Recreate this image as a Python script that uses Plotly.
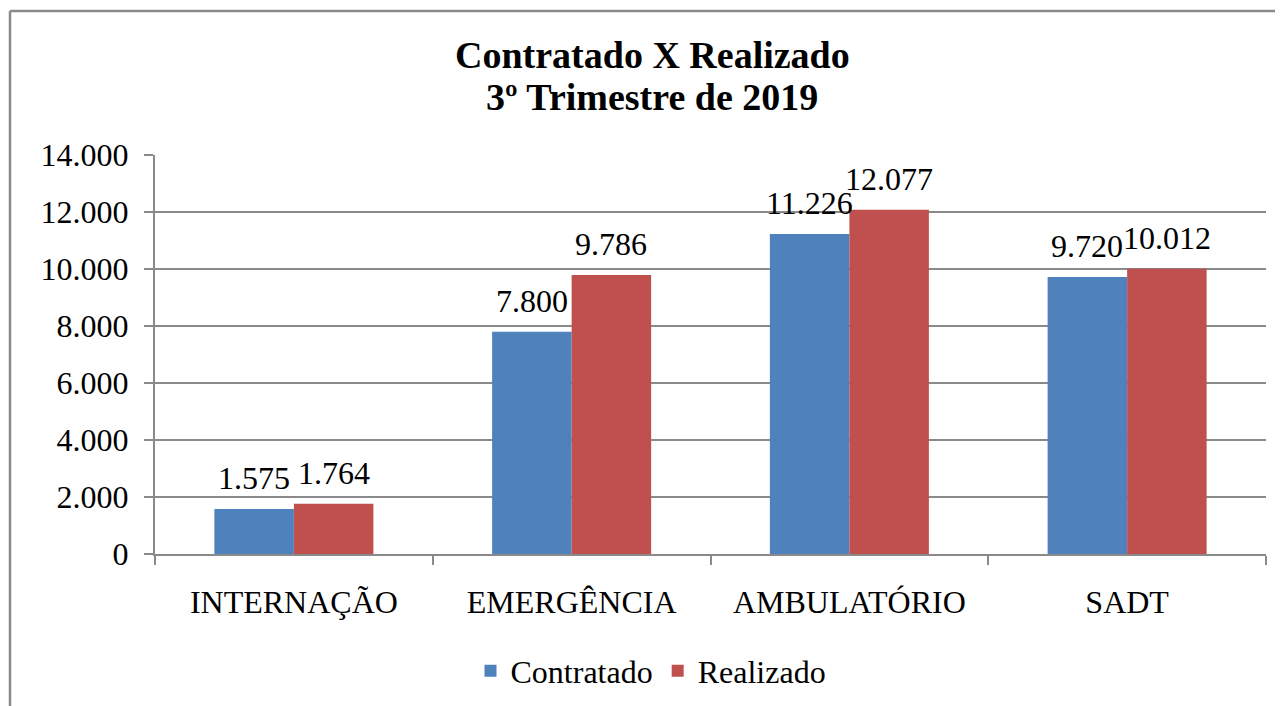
import plotly.graph_objects as go

categories = ["INTERNAÇÃO", "EMERGÊNCIA", "AMBULATÓRIO", "SADT"]
contratado = [1575, 7800, 11226, 9720]
realizado = [1764, 9786, 12077, 10012]
y_ticks = [0, 2000, 4000, 6000, 8000, 10000, 12000, 14000]

OFF = 8  # page body margin offset
W, H = 1283, 706
L = 155 - OFF
T = 155 - OFF
R = W - (1266 - OFF)
B = H - (554 - OFF)
pw, ph = W - L - R, H - T - B

def px_x(x):
    return (x - OFF - L) / pw

def px_y(y):
    return (T + ph - (y - OFF)) / ph

FONT = "Liberation Serif"
GRID = "#8a8a8a"
BARGAP = 0.4275
half_bar = (1 - BARGAP) * (pw / len(categories)) / 4

def fmt(v):
    return f"{v:,}".replace(",", ".")

fig = go.Figure()
fig.add_trace(go.Bar(
    name="Contratado", x=categories, y=contratado,
    marker=dict(color="#4F81BD", line=dict(width=0)),
))
fig.add_trace(go.Bar(
    name="Realizado", x=categories, y=realizado,
    marker=dict(color="#C0504D", line=dict(width=0)),
))

annotations = []
for series, shift in ((contratado, -half_bar), (realizado, half_bar)):
    for c, v in zip(categories, series):
        annotations.append(dict(
            x=c, y=v, xref="x", yref="y", text=fmt(v), showarrow=False,
            xanchor="center", yanchor="bottom", xshift=shift, yshift=11,
            font=dict(family=FONT, size=32, color="black"),
        ))

annotations += [
    dict(text="<b>Contratado X Realizado</b>", xref="paper", yref="paper",
         x=px_x(652), y=px_y(55), xanchor="center", yanchor="middle",
         showarrow=False, font=dict(family=FONT, size=38, color="black")),
    dict(text="<b>3º Trimestre de 2019</b>", xref="paper", yref="paper",
         x=px_x(652), y=px_y(97), xanchor="center", yanchor="middle",
         showarrow=False, font=dict(family=FONT, size=38, color="black")),
]

fig.update_layout(
    width=W, height=H,
    margin=dict(l=L, r=R, t=T, b=B, autoexpand=False),
    paper_bgcolor="white", plot_bgcolor="white",
    separators=",.",
    barmode="group", bargap=BARGAP, bargroupgap=0,
    font=dict(family=FONT, size=32, color="black"),
    showlegend=True,
    legend=dict(orientation="h", x=px_x(651), y=px_y(671),
                xanchor="center", yanchor="middle",
                font=dict(family=FONT, size=32, color="black"),
                itemwidth=30, bgcolor="rgba(0,0,0,0)"),
    xaxis=dict(
        type="category", showline=True, linecolor=GRID, linewidth=2,
        ticks="outside", tickson="boundaries", ticklen=9, tickwidth=2,
        tickcolor=GRID, showgrid=False,
        tickfont=dict(family=FONT, size=32, color="black"),
        ticklabelstandoff=19,
    ),
    yaxis=dict(
        range=[0, 14000], tickvals=y_ticks, tickformat=",d",
        showline=True, linecolor=GRID, linewidth=2,
        ticks="outside", ticklen=9, tickwidth=2, tickcolor=GRID,
        showgrid=True, gridcolor=GRID, gridwidth=1.5,
        zeroline=False,
        tickfont=dict(family=FONT, size=32, color="black"),
        ticklabelstandoff=9,
    ),
    annotations=annotations,
    shapes=[
        dict(type="line", xref="paper", yref="paper",
             x0=px_x(10), x1=px_x(10), y0=px_y(11), y1=px_y(730),
             line=dict(color="#8a8a8a", width=2.5)),
        dict(type="line", xref="paper", yref="paper",
             x0=px_x(10), x1=px_x(1300), y0=px_y(11), y1=px_y(11),
             line=dict(color="#8a8a8a", width=2.5)),
    ],
)

fig.write_html("out.html")
